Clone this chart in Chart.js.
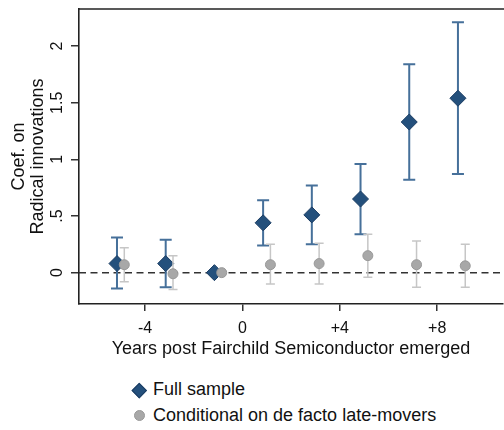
<!DOCTYPE html>
<html><head><meta charset="utf-8">
<script src="https://cdn.jsdelivr.net/npm/chart.js@4"></script>
<style>
html,body{margin:0;padding:0;background:#fff;overflow:hidden;width:504px;height:430px;}
#wrap{position:absolute;left:0;top:0;width:512px;height:360px;}
.leg{position:absolute;left:153px;font:18px "Liberation Sans",Arial,sans-serif;color:#111;line-height:20px;white-space:nowrap;}
.mk{position:absolute;box-sizing:border-box;}
</style></head><body>
<div id="wrap"><canvas id="c" width="512" height="360"></canvas></div>
<div class="mk" style="left:134px;top:384.5px;width:10.5px;height:10.5px;background:#24507c;border:1px solid #1b3d63;transform:rotate(45deg);"></div>
<div class="leg" style="top:379.3px;">Full sample</div>
<div class="mk" style="left:133.5px;top:409.5px;width:11px;height:11px;border-radius:50%;background:#a8a8a8;border:1px solid #999;"></div>
<div class="leg" style="top:404.8px;">Conditional on de facto late-movers</div>
<script>
const years = [-5, -3, -1, 1, 3, 5, 7, 9];
const fullCoef = [0.08, 0.08, 0, 0.44, 0.51, 0.65, 1.33, 1.54];
const fullLo   = [-0.14, -0.13, null, 0.24, 0.25, 0.34, 0.82, 0.87];
const fullHi   = [0.31, 0.29, null, 0.64, 0.77, 0.96, 1.84, 2.21];
const lateCoef = [0.07, -0.01, 0, 0.07, 0.08, 0.15, 0.07, 0.06];
const lateLo   = [-0.08, -0.15, null, -0.10, -0.10, -0.04, -0.13, -0.13];
const lateHi   = [0.22, 0.15, null, 0.25, 0.26, 0.34, 0.28, 0.25];
const xTickValues = [-4, 0, 4, 8];
const xTickLabels = ['-4', '0', '+4', '+8'];
const yTickValues = [0, 0.5, 1, 1.5, 2];
const yTickLabels = ['0', '.5', '1', '1.5', '2'];
const xTitle = 'Years post Fairchild Semiconductor emerged';
const yTitle = ['Coef. on', 'Radical innovations'];
const seriesNames = ['Full sample', 'Conditional on de facto late-movers'];

const FONT = '"Liberation Sans", Arial, sans-serif';
const OFF_FULL = -0.15, OFF_LATE = 0.15;

const errBars = {
  id: 'errBars',
  beforeDatasetsDraw(chart) {
    const {ctx, chartArea: a} = chart;
    const y0 = chart.scales.y.getPixelForValue(0);
    ctx.save();
    ctx.strokeStyle = '#333'; ctx.lineWidth = 1.5; ctx.setLineDash([7, 4.5]);
    ctx.beginPath(); ctx.moveTo(a.left, y0); ctx.lineTo(a.right, y0); ctx.stroke();
    ctx.restore();
  },
  beforeDatasetDraw(chart, args) {
    const ds = chart.data.datasets[args.index];
    const eb = ds.eb; if (!eb) return;
    const xs = chart.scales.x, ys = chart.scales.y, ctx = chart.ctx;
    ctx.save(); ctx.strokeStyle = eb.color; ctx.lineWidth = eb.width;
    ds.data.forEach((p, i) => {
      if (eb.lo[i] == null) return;
      const x = xs.getPixelForValue(p.x), y1 = ys.getPixelForValue(eb.lo[i]), y2 = ys.getPixelForValue(eb.hi[i]);
      ctx.beginPath();
      ctx.moveTo(x, y1); ctx.lineTo(x, y2);
      ctx.moveTo(x - eb.cap, y1); ctx.lineTo(x + eb.cap, y1);
      ctx.moveTo(x - eb.cap, y2); ctx.lineTo(x + eb.cap, y2);
      ctx.stroke();
    });
    ctx.restore();
  },
  afterDraw(chart) {
    const {ctx, chartArea: a} = chart;
    const ys = chart.scales.y;
    ctx.save();
    ctx.strokeStyle = '#222'; ctx.lineWidth = 1.6;
    ctx.beginPath(); ctx.moveTo(a.left, a.top); ctx.lineTo(a.right + 10, a.top); ctx.stroke();
    ctx.fillStyle = '#111';
    ctx.font = '16px ' + FONT;
    ctx.textAlign = 'center'; ctx.textBaseline = 'alphabetic';
    yTickValues.forEach((v, i) => {
      const y = ys.getPixelForValue(v);
      ctx.save(); ctx.translate(61.5, y); ctx.rotate(-Math.PI / 2);
      ctx.fillText(yTickLabels[i], 0, 0); ctx.restore();
    });
    ctx.font = '18px ' + FONT;
    const cy = (a.top + a.bottom) / 2;
    [24, 42.5].forEach((bx, i) => {
      ctx.save(); ctx.translate(bx, cy); ctx.rotate(-Math.PI / 2);
      ctx.fillText(yTitle[i], 0, 0); ctx.restore();
    });
    ctx.restore();
  }
};

new Chart(document.getElementById('c'), {
  type: 'scatter',
  data: {
    datasets: [
      {
        label: seriesNames[0], order: 1,
        data: years.map((t, i) => ({x: t + OFF_FULL, y: fullCoef[i]})),
        pointStyle: 'rectRot', pointRadius: 8, pointBackgroundColor: '#24507c',
        pointBorderColor: '#1b3d63', pointBorderWidth: 1,
        eb: {lo: fullLo, hi: fullHi, color: '#46709a', width: 2, cap: 6}
      },
      {
        label: seriesNames[1], order: 0,
        data: years.map((t, i) => ({x: t + OFF_LATE, y: lateCoef[i]})),
        pointStyle: 'circle', pointRadius: 5, pointBackgroundColor: '#a8a8a8',
        pointBorderColor: '#999', pointBorderWidth: 1,
        eb: {lo: lateLo, hi: lateHi, color: '#c6c6c6', width: 1.5, cap: 4.5}
      }
    ]
  },
  options: {
    responsive: false, animation: false, devicePixelRatio: 1,
    layout: {padding: {top: 6, left: 0, right: 5, bottom: 0}},
    plugins: {legend: {display: false}, tooltip: {enabled: false}},
    scales: {
      x: {
        type: 'linear', min: -6.71, max: 10.7,
        afterBuildTicks: s => { s.ticks = xTickValues.map(v => ({value: v})); },
        afterFit: s => { s.height = 56; },
        grid: {drawOnChartArea: false, drawTicks: true, tickLength: 7, tickColor: '#333', lineWidth: 1.5},
        border: {display: true, color: '#222', width: 1.6},
        ticks: {callback: (v, i) => xTickLabels[i], font: {size: 16, family: FONT}, color: '#111', padding: 8, maxRotation: 0},
        title: {display: true, text: xTitle, font: {size: 18, family: FONT}, color: '#111', padding: {top: 0, bottom: 0.5}}
      },
      y: {
        type: 'linear', min: -0.277, max: 2.328,
        afterBuildTicks: s => { s.ticks = yTickValues.map(v => ({value: v})); },
        afterFit: s => { s.width = 79; },
        grid: {drawOnChartArea: false, drawTicks: true, tickLength: 8, tickColor: '#333', lineWidth: 1.5},
        border: {display: true, color: '#222', width: 1.6},
        ticks: {display: false}
      }
    }
  },
  plugins: [errBars]
});
</script>
</body></html>
